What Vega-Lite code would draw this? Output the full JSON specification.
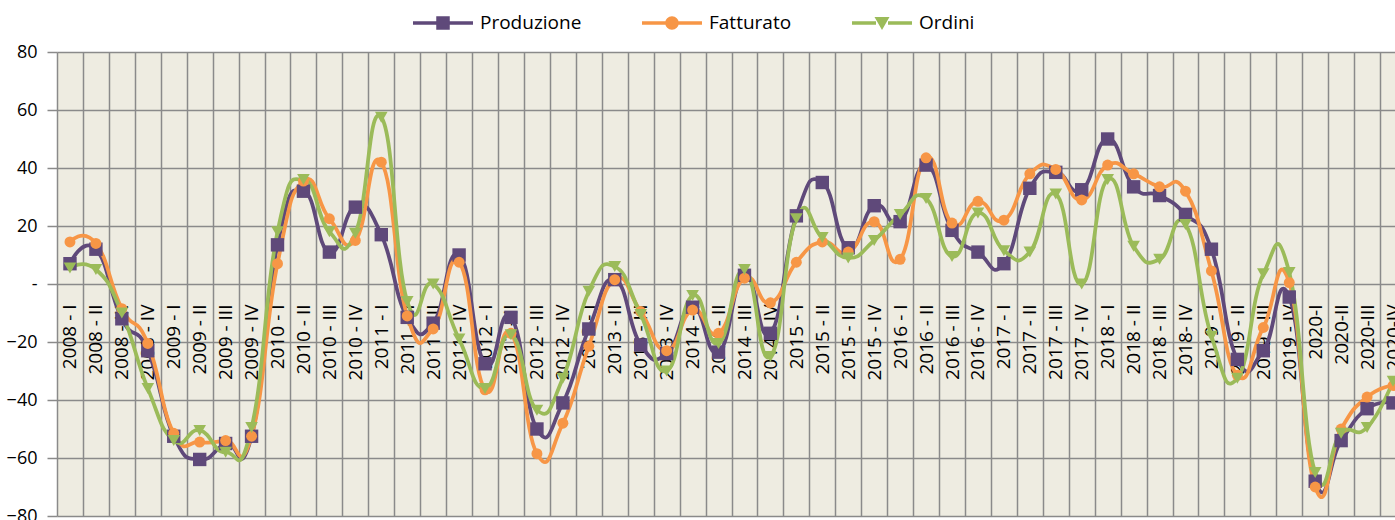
{
  "$schema": "https://vega.github.io/schema/vega-lite/v6.json",
  "width": 1338,
  "height": 464,
  "autosize": {"type": "none"},
  "padding": {"left": 57, "top": 52, "right": 0, "bottom": 4},
  "background": "white",
  "config": {"view": {"fill": "#EEECE1", "stroke": null}, "font": "Open Sans"},
  "data": {"values": [
    {"q": "2008 - I", "Produzione": 7, "Fatturato": 14.5, "Ordini": 5.5},
    {"q": "2008 - II", "Produzione": 12, "Fatturato": 14, "Ordini": 5},
    {"q": "2008 - III", "Produzione": -12, "Fatturato": -8.5, "Ordini": -10},
    {"q": "2008 - IV", "Produzione": -23, "Fatturato": -20.5, "Ordini": -36},
    {"q": "2009 - I", "Produzione": -52.5, "Fatturato": -51.5, "Ordini": -54},
    {"q": "2009 - II", "Produzione": -60.5, "Fatturato": -54.5, "Ordini": -50.5},
    {"q": "2009 - III", "Produzione": -55, "Fatturato": -54, "Ordini": -58},
    {"q": "2009 - IV", "Produzione": -52.5, "Fatturato": -52.5, "Ordini": -49.5},
    {"q": "2010 - I", "Produzione": 13.5, "Fatturato": 7, "Ordini": 18},
    {"q": "2010 - II", "Produzione": 32, "Fatturato": 35.5, "Ordini": 36},
    {"q": "2010 - III", "Produzione": 11, "Fatturato": 22.5, "Ordini": 18},
    {"q": "2010 - IV", "Produzione": 26.5, "Fatturato": 15, "Ordini": 17.5},
    {"q": "2011 - I", "Produzione": 17, "Fatturato": 42, "Ordini": 57.5},
    {"q": "2011 - II", "Produzione": -11.5, "Fatturato": -11, "Ordini": -6},
    {"q": "2011 - III", "Produzione": -13.5, "Fatturato": -15.5, "Ordini": 0},
    {"q": "2011 - IV", "Produzione": 10, "Fatturato": 7.5, "Ordini": -19},
    {"q": "2012 - I", "Produzione": -27.5, "Fatturato": -36.5, "Ordini": -36},
    {"q": "2012 - II", "Produzione": -11.5, "Fatturato": -17, "Ordini": -17.5},
    {"q": "2012 - III", "Produzione": -50, "Fatturato": -58.5, "Ordini": -43.5},
    {"q": "2012 - IV", "Produzione": -41, "Fatturato": -48, "Ordini": -32.5},
    {"q": "2013 - I", "Produzione": -15.5, "Fatturato": -21.5, "Ordini": -2.5},
    {"q": "2013 - II", "Produzione": 1.5, "Fatturato": 1.5, "Ordini": 6},
    {"q": "2013 - III", "Produzione": -21, "Fatturato": -9.5, "Ordini": -10.5},
    {"q": "2013 - IV", "Produzione": -24, "Fatturato": -23, "Ordini": -30},
    {"q": "2014 - I", "Produzione": -8, "Fatturato": -9, "Ordini": -4},
    {"q": "2014 - II", "Produzione": -23.5, "Fatturato": -17, "Ordini": -20.5},
    {"q": "2014 - III", "Produzione": 3, "Fatturato": 2, "Ordini": 5},
    {"q": "2014 - IV", "Produzione": -17, "Fatturato": -6.5, "Ordini": -25},
    {"q": "2015 - I", "Produzione": 23.5, "Fatturato": 7.5, "Ordini": 22.5},
    {"q": "2015 - II", "Produzione": 35, "Fatturato": 14.5, "Ordini": 16},
    {"q": "2015 - III", "Produzione": 12.5, "Fatturato": 11, "Ordini": 9},
    {"q": "2015 - IV", "Produzione": 27, "Fatturato": 21.5, "Ordini": 15},
    {"q": "2016 - I", "Produzione": 21.5, "Fatturato": 8.5, "Ordini": 24},
    {"q": "2016 - II", "Produzione": 41, "Fatturato": 43.5, "Ordini": 29.5},
    {"q": "2016 - III", "Produzione": 18.5, "Fatturato": 21, "Ordini": 9.5},
    {"q": "2016 - IV", "Produzione": 11, "Fatturato": 28.5, "Ordini": 24.5},
    {"q": "2017 - I", "Produzione": 7, "Fatturato": 22, "Ordini": 11.5},
    {"q": "2017 - II", "Produzione": 33, "Fatturato": 38, "Ordini": 11},
    {"q": "2017 - III", "Produzione": 38.5, "Fatturato": 39.5, "Ordini": 31},
    {"q": "2017 - IV", "Produzione": 32.5, "Fatturato": 29, "Ordini": 0},
    {"q": "2018 - I", "Produzione": 50, "Fatturato": 41, "Ordini": 36},
    {"q": "2018 - II", "Produzione": 33.5, "Fatturato": 38, "Ordini": 13},
    {"q": "2018 - III", "Produzione": 30.5, "Fatturato": 33.5, "Ordini": 8.5},
    {"q": "2018- IV", "Produzione": 24, "Fatturato": 32, "Ordini": 20.5},
    {"q": "2019 - I", "Produzione": 12, "Fatturato": 4.5, "Ordini": -18},
    {"q": "2019 - II", "Produzione": -26, "Fatturato": -31.5, "Ordini": -32.5},
    {"q": "2019 - III", "Produzione": -23, "Fatturato": -15, "Ordini": 3.5},
    {"q": "2019 - IV", "Produzione": -4.5, "Fatturato": 0.5, "Ordini": 4},
    {"q": "2020-I", "Produzione": -68, "Fatturato": -70, "Ordini": -65},
    {"q": "2020-II", "Produzione": -54, "Fatturato": -50, "Ordini": -51.5},
    {"q": "2020-III", "Produzione": -43, "Fatturato": -39, "Ordini": -49.5},
    {"q": "2020-IV", "Produzione": -41, "Fatturato": -35, "Ordini": -33.5}
  ]},
  "transform": [{"fold": ["Produzione", "Fatturato", "Ordini"], "as": ["serie", "valore"]}],
  "encoding": {
    "x": {
      "field": "q", "type": "ordinal", "sort": null,
      "scale": {"type": "point", "range": [0, 1349], "padding": 0.5},
      "axis": {
        "title": null, "orient": "bottom", "offset": -232, "labelAngle": -90,
        "labelFont": "Open Sans", "labelFontSize": 19, "labelColor": "#000000",
        "labelPadding": 20, "ticks": false, "domain": false,
        "grid": true, "gridColor": "#8A8A8A", "gridWidth": 1.5,
        "tickOffset": -12.97, "labelOffset": 12.97,
        "labelOverlap": false, "labelBound": false
      }
    },
    "y": {
      "field": "valore", "type": "quantitative",
      "scale": {"domain": [-80, 80], "nice": false, "zero": false},
      "axis": {
        "title": null, "values": [-80, -60, -40, -20, 0, 20, 40, 60, 80],
        "labelExpr": "datum.value === 0 ? '-' : datum.label",
        "labelFont": "Open Sans", "labelFontSize": 18, "labelColor": "#000000",
        "labelPadding": 10, "tickSize": 10, "tickColor": "#8A8A8A", "tickWidth": 1.5,
        "grid": true, "gridColor": "#8A8A8A", "gridWidth": 1.5, "domain": false
      }
    },
    "color": {
      "field": "serie", "type": "nominal",
      "scale": {"domain": ["Produzione", "Fatturato", "Ordini"], "range": ["#5F497A", "#F79646", "#9BBB59"]},
      "legend": {
        "orient": "none", "legendX": 356, "legendY": -59, "direction": "horizontal",
        "title": null, "symbolSize": 3600, "labelFont": "Open Sans", "labelFontSize": 19,
        "labelColor": "#000000", "labelOffset": 7, "columnPadding": 60, "padding": 0,
        "encode": {"symbols": {"update": {
          "shape": {"signal": "datum.value === 'Produzione' ? 'M-1,-0.055H-0.2V0.055H-1Z M0.2,-0.055H1V0.055H0.2Z M-0.225,-0.225H0.225V0.225H-0.225Z' : datum.value === 'Fatturato' ? 'M-1,-0.055H-0.2V0.055H-1Z M0.2,-0.055H1V0.055H0.2Z M0.225,0A0.225,0.225,0,1,1,-0.225,0A0.225,0.225,0,1,1,0.225,0Z' : 'M-1,-0.055H-0.2V0.055H-1Z M0.2,-0.055H1V0.055H0.2Z M-0.25,-0.2H0.25L0,0.23Z'"},
          "size": {"value": 3600},
          "fill": {"scale": "color", "field": "value"},
          "fillOpacity": {"value": 1},
          "opacity": {"value": 1},
          "stroke": {"value": "transparent"},
          "strokeWidth": {"value": 0}
        }}}
      }
    }
  },
  "layer": [
    {"mark": {"type": "line", "interpolate": "cardinal", "tension": -0.5, "strokeWidth": 3.75}},
    {
      "mark": {"type": "point", "filled": true, "opacity": 1},
      "encoding": {
        "shape": {"condition": [{"test": "datum.serie === 'Produzione'", "value": "square"}, {"test": "datum.serie === 'Fatturato'", "value": "circle"}], "value": "triangle-down"},
        "size": {"condition": [{"test": "datum.serie === 'Produzione'", "value": 180}, {"test": "datum.serie === 'Fatturato'", "value": 120}], "value": 160}
      }
    }
  ]
}
